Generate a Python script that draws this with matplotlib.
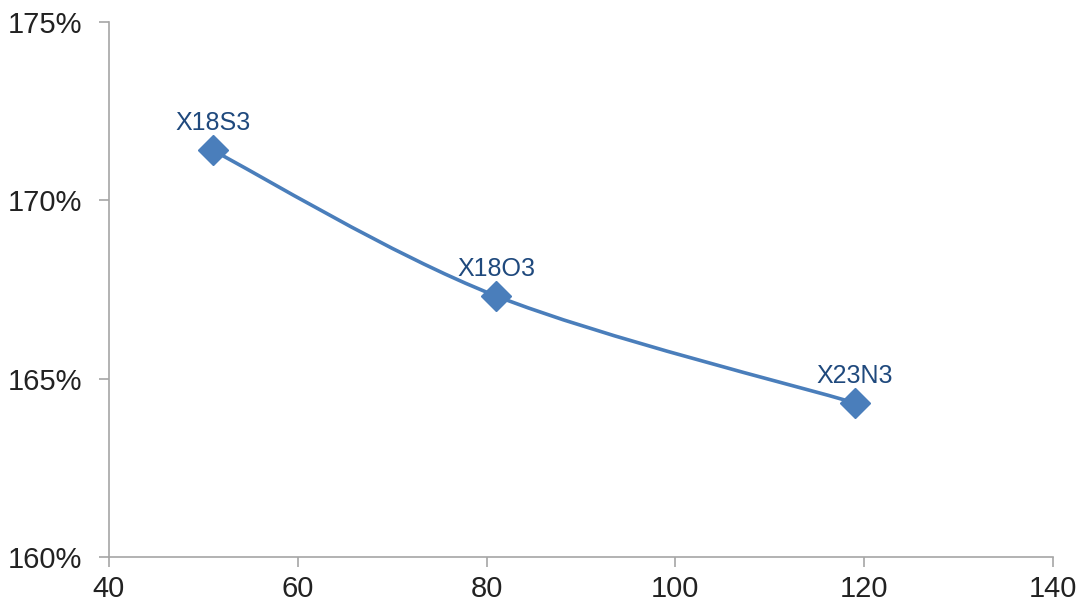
import matplotlib.pyplot as plt
from matplotlib.path import Path
from matplotlib.patches import PathPatch
from matplotlib.ticker import FuncFormatter

names = ["X18S3", "X18O3", "X23N3"]
x_vals = [51, 81, 119]
y_vals = [1.714, 1.6732, 1.6432]

blue = "#4A7EBB"
grey = "#A6A6A6"

plt.rcParams['font.family'] = ['Liberation Sans', 'DejaVu Sans']

fig = plt.figure(figsize=(10.83, 6.03), dpi=100)
ax = fig.add_axes([0.1006, 0.0763, 0.8717, 0.8872])

# smoothed line (Catmull-Rom style bezier through the points)
pts = list(zip(x_vals, y_vals))
verts = [pts[0]]
codes = [Path.MOVETO]
for i in range(len(pts) - 1):
    p0 = pts[i - 1] if i > 0 else pts[i]
    p1 = pts[i]
    p2 = pts[i + 1]
    p3 = pts[i + 2] if i + 2 < len(pts) else pts[i + 1]
    c1 = (p1[0] + (p2[0] - p0[0]) / 6, p1[1] + (p2[1] - p0[1]) / 6)
    c2 = (p2[0] - (p3[0] - p1[0]) / 6, p2[1] - (p3[1] - p1[1]) / 6)
    verts += [c1, c2, p2]
    codes += [Path.CURVE4] * 3
ax.add_patch(PathPatch(Path(verts, codes), facecolor="none", edgecolor=blue,
                       lw=2.6, zorder=2))

ax.plot(x_vals, y_vals, linestyle="none", marker="D", markersize=15,
        color=blue, zorder=3)

for n, x, y in zip(names, x_vals, y_vals):
    ax.annotate(n, (x, y), xytext=(0, 11), textcoords="offset points",
                ha="center", va="bottom", fontsize=18, color="#1F497D")

ax.set_xlim(40, 140)
ax.set_ylim(1.60, 1.75)
ax.set_xticks([40, 60, 80, 100, 120, 140])
ax.set_yticks([1.60, 1.65, 1.70, 1.75])
ax.yaxis.set_major_formatter(FuncFormatter(lambda v, p: f"{v * 100:.0f}%"))

for s in ["top", "right"]:
    ax.spines[s].set_visible(False)
for s in ["left", "bottom"]:
    ax.spines[s].set_color(grey)
    ax.spines[s].set_linewidth(1.2)
ax.tick_params(direction="out", length=7, width=1.2, color=grey,
               labelsize=21, labelcolor="#222222")
ax.tick_params(axis="y", pad=12)
ax.tick_params(axis="x", pad=6)

fig.savefig("out.png", dpi=100)
